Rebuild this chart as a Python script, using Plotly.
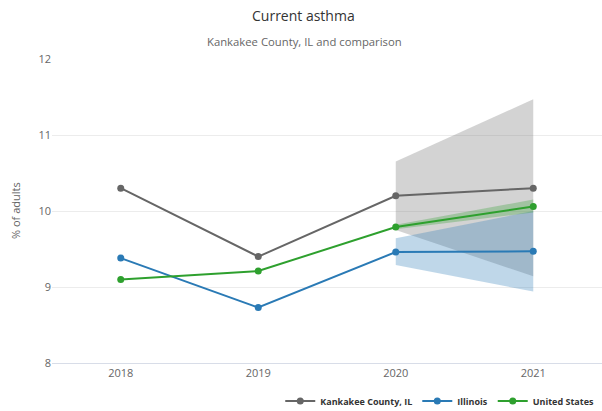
import plotly.graph_objects as go

years = ["2018", "2019", "2020", "2021"]
kankakee = [10.30, 9.40, 10.20, 10.30]
illinois = [9.38, 8.73, 9.46, 9.47]
united_states = [9.10, 9.21, 9.79, 10.06]

ci_years = ["2020", "2021"]
kankakee_low = [9.75, 9.14]
kankakee_high = [10.65, 11.47]
illinois_low = [9.29, 8.94]
illinois_high = [9.64, 10.00]
us_low = [9.76, 9.98]
us_high = [9.82, 10.15]

names = ["Kankakee County, IL", "Illinois", "United States"]
line_colors = ["#666666", "#2a7ab5", "#2ea02e"]
band_colors = ["rgba(130,130,130,0.35)", "rgba(42,122,181,0.30)", "rgba(46,160,46,0.30)"]

fig = go.Figure()

bands = [(kankakee_low, kankakee_high), (illinois_low, illinois_high), (us_low, us_high)]
for (lo, hi), bc in zip(bands, band_colors):
    fig.add_trace(go.Scatter(x=ci_years, y=lo, mode="lines", line=dict(width=0),
                             showlegend=False, hoverinfo="skip"))
    fig.add_trace(go.Scatter(x=ci_years, y=hi, mode="lines", line=dict(width=0),
                             fill="tonexty", fillcolor=bc, showlegend=False, hoverinfo="skip"))

for name, vals, col in zip(names, [kankakee, illinois, united_states], line_colors):
    fig.add_trace(go.Scatter(x=years, y=vals, mode="lines+markers", name=name,
                             line=dict(color=col, width=2),
                             marker=dict(color=col, size=7)))

W, H = 602, 411
L, R, T, B = 52, 0, 59, 48
plot_w = W - L - R
plot_h = H - T - B

def px_x(px):
    return (px - L) / plot_w

def px_y(py):
    return (H - B - py) / plot_h

fig.update_layout(
    width=W, height=H,
    margin=dict(l=L, r=R, t=T, b=B, autoexpand=False),
    paper_bgcolor="white", plot_bgcolor="white",
    font=dict(family="Open Sans, sans-serif", color="#666666", size=11),
    showlegend=True,
    legend=dict(orientation="h", x=0.995, xanchor="right", y=px_y(401), yanchor="middle",
                font=dict(size=9, color="#333333", weight="bold"),
                itemwidth=30, traceorder="normal", bgcolor="rgba(0,0,0,0)"),
    xaxis=dict(type="category", categoryorder="array", categoryarray=years,
               range=[-0.5, 3.5], showgrid=False, zeroline=False, automargin=False,
               showline=True, linecolor="#d8dde8", ticks="",
               tickfont=dict(size=11, color="#666666")),
    yaxis=dict(range=[8, 12], tickvals=[8, 9, 10, 11, 12], showgrid=True,
               gridcolor="#ececec", gridwidth=1, zeroline=False, automargin=False,
               tickfont=dict(size=11, color="#666666"), ticks="", ticklen=0),
    annotations=[
        dict(text="Current asthma", x=px_x(303), xref="paper", y=px_y(16), yref="paper",
             yanchor="middle", showarrow=False, font=dict(size=14, color="#333333")),
        dict(text="Kankakee County, IL and comparison", x=px_x(304), xref="paper",
             y=px_y(41), yref="paper", yanchor="middle", showarrow=False,
             font=dict(size=11.3, color="#666666")),
        dict(text="% of adults", x=px_x(15), xref="paper", y=px_y(211), yref="paper",
             textangle=-90, xanchor="center", yanchor="middle", showarrow=False,
             font=dict(size=11, color="#666666")),
    ],
)

fig.write_html("out.html", config={"displayModeBar": False},
               post_script="document.body.style.margin='0';document.body.style.overflow='hidden';")
